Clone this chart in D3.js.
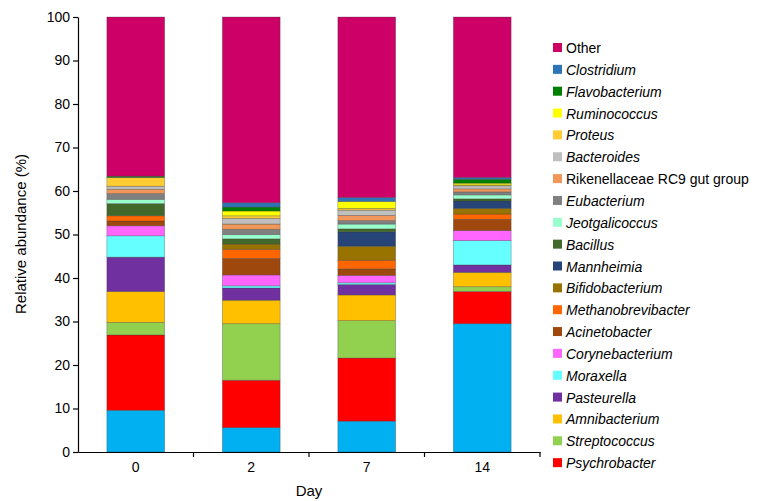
<!DOCTYPE html>
<html><head><meta charset="utf-8">
<script src="https://cdn.jsdelivr.net/npm/d3@7"></script>
<style>body{margin:0;background:#fff;font-family:"Liberation Sans",Arial,sans-serif;}</style>
</head><body><svg id="chart" width="772" height="501"></svg>
<script>
var days = ["0", "2", "7", "14"];
// bottom to top
var taxa = ["Unlisted", "Psychrobacter", "Streptococcus", "Amnibacterium", "Pasteurella", "Moraxella",
  "Corynebacterium", "Acinetobacter", "Methanobrevibacter", "Bifidobacterium", "Mannheimia", "Bacillus",
  "Jeotgalicoccus", "Eubacterium", "Rikenellaceae RC9 gut group", "Bacteroides", "Proteus",
  "Ruminococcus", "Flavobacterium", "Clostridium", "Other"];
var colors = ["#00B0F0", "#FF0000", "#92D050", "#FFC000", "#7030A0", "#66FFFF", "#FF66FF", "#9E480E",
  "#FF6600", "#997300", "#264478", "#43682B", "#99FFCC", "#808080", "#F1975A", "#BFBFBF", "#FFCC33",
  "#FFFF00", "#008000", "#2E75B6", "#CC0066"];
var day0 = [9.6, 17.3, 2.9, 7.1, 7.9, 4.9, 2.3, 1.1, 1.2, 0, 0, 2.8, 1.0, 1.3, 1.0, 0.7, 2.0, 0, 0.3, 0, 36.6];
var day2 = [5.6, 10.9, 13.0, 5.4, 2.8, 0.5, 2.5, 3.8, 2.1, 1.2, 0, 1.2, 1.0, 1.2, 1.2, 1.3, 0.6, 1.1, 0.9, 1.0, 42.7];
var day7 = [7.1, 14.5, 8.6, 5.9, 2.4, 0.4, 1.7, 1.5, 2.0, 3.2, 3.3, 0.7, 1.1, 0.8, 1.2, 1.2, 0.4, 1.6, 0, 0.9, 41.5];
var day14 = [29.5, 7.4, 1.1, 3.3, 1.7, 5.6, 2.3, 2.6, 1.2, 1.3, 1.7, 0.5, 0.9, 0.7, 0.7, 0.7, 0.2, 0.4, 0.9, 0.4, 36.9];
var yTicks = [0, 10, 20, 30, 40, 50, 60, 70, 80, 90, 100];

var series = [day0, day2, day7, day14];
var rows = days.map(function (d, i) {
  var r = { day: d };
  taxa.forEach(function (t, j) { r[t] = series[i][j]; });
  return r;
});
var stacked = d3.stack().keys(taxa)(rows);

var svg = d3.select("#chart");
var x = d3.scaleBand().domain(days).range([78, 540]).paddingInner(0.5).paddingOuter(0.25);
var y = d3.scaleLinear().domain([0, 100]).range([452, 17]);

svg.append("g").selectAll("g").data(stacked).enter().append("g")
  .attr("fill", function (d, i) { return colors[i]; })
  .selectAll("rect").data(function (d) { return d; }).enter().append("rect")
  .attr("x", function (d) { return x(d.data.day); })
  .attr("width", x.bandwidth())
  .attr("y", function (d) { return y(d[1]); })
  .attr("height", function (d) { return y(d[0]) - y(d[1]); })
  .attr("stroke", "rgba(60,60,60,0.45)").attr("stroke-width", 0.7);

var yAxis = svg.append("g").attr("transform", "translate(78,0)")
  .call(d3.axisLeft(y).tickValues(yTicks).tickSize(5).tickSizeOuter(0));
var xAxis = svg.append("g").attr("transform", "translate(0,452)")
  .call(d3.axisBottom(x).tickSize(0).tickPadding(10));
// category boundary ticks
xAxis.selectAll(".sep").data([0.25, 1.25, 2.25, 3.25]).enter().append("line")
  .attr("x1", function (d, i) { return x(days[i]) + x.bandwidth() / 2 + x.step() / 2; })
  .attr("x2", function (d, i) { return x(days[i]) + x.bandwidth() / 2 + x.step() / 2; })
  .attr("y1", 0).attr("y2", 5).attr("stroke", "#000");
[yAxis, xAxis].forEach(function (a) {
  a.selectAll("path, line").attr("stroke", "#000").attr("stroke-width", 1.2);
  a.selectAll("text").attr("font-size", 14).attr("fill", "#000").attr("font-family", "Liberation Sans, Arial");
});
xAxis.selectAll(".sep").filter(function (d, i) { return i === 3; }).remove();

svg.append("text").attr("transform", "translate(26,234) rotate(-90)").attr("text-anchor", "middle")
  .attr("font-size", 15).text("Relative abundance (%)");
svg.append("text").attr("x", 309).attr("y", 496).attr("text-anchor", "middle")
  .attr("font-size", 15).text("Day");

var legendKeys = taxa.slice(1).reverse();
var leg = svg.append("g").selectAll("g").data(legendKeys).enter().append("g")
  .attr("transform", function (d, i) { return "translate(553," + (48 + i * 21.85) + ")"; });
leg.append("rect").attr("x", 0).attr("y", -5).attr("width", 9).attr("height", 9)
  .attr("fill", function (d) { return colors[taxa.indexOf(d)]; });
leg.append("text").attr("x", 13).attr("y", 5).attr("font-size", 14)
  .attr("font-style", function (d) { return (d === "Other" || d.indexOf("Rikenellaceae") === 0) ? "normal" : "italic"; })
  .text(function (d) { return d; });
</script></body></html>
